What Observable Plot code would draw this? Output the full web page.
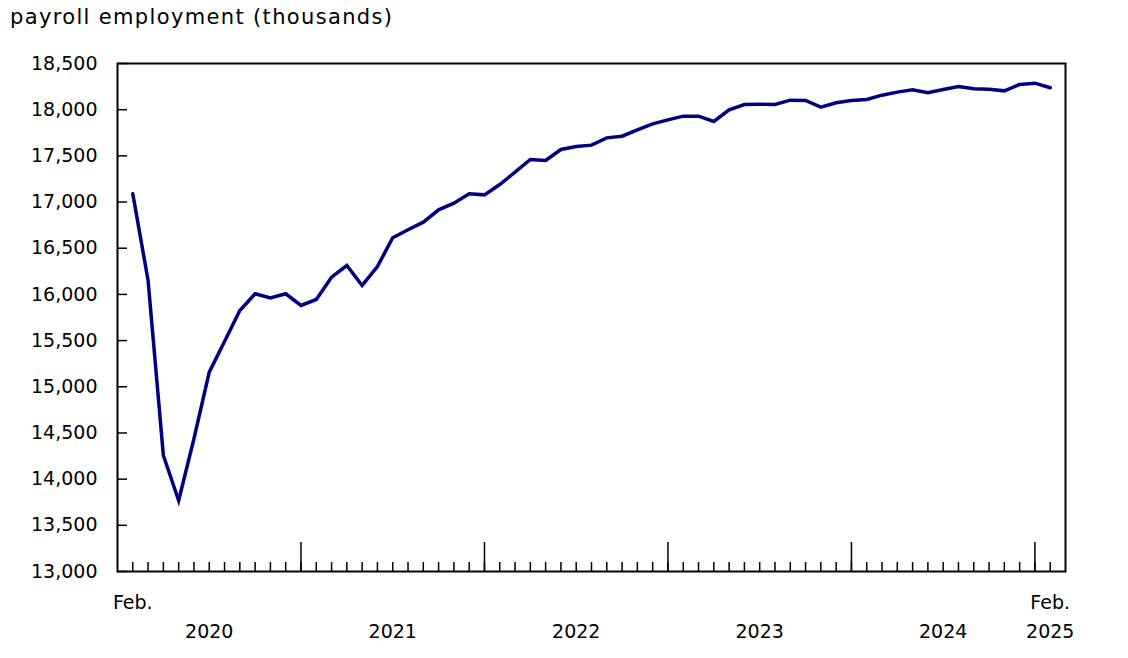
<!DOCTYPE html>
<html>
<head>
<meta charset="utf-8">
<script src="https://cdn.jsdelivr.net/npm/d3@7"></script>
<script src="https://cdn.jsdelivr.net/npm/@observablehq/plot@0.6"></script>
<style>
  html, body { margin: 0; padding: 0; background: #fff; }
  body { font-family: "DejaVu Sans", Verdana, sans-serif; color: #000; }
  #title { box-sizing: border-box; height: 40px; padding: 7px 0 0 10px; font-size: 21px; line-height: 21px; letter-spacing: 1.35px; white-space: nowrap; }
  #chart svg { display: block; }
</style>
</head>
<body>
<div id="title">payroll employment (thousands)</div>
<div id="chart"></div>
<script>
// ---- data ----
const months = d3.utcMonth.range(new Date(Date.UTC(2020, 1, 1)), new Date(Date.UTC(2025, 2, 1)));
const employment = [
  17089, 16151, 14256, 13769, 14437, 15158, 15490, 15826, 16007, 15963, 16007,
  15880, 15945, 16187, 16313, 16097, 16302, 16613, 16700, 16782, 16916, 16988, 17089,
  17078, 17190, 17323, 17461, 17450, 17569, 17601, 17616, 17695, 17713, 17782, 17847,
  17890, 17930, 17930, 17872, 17999, 18056, 18060, 18056, 18103, 18100, 18027, 18075,
  18100, 18110, 18157, 18190, 18215, 18183, 18219, 18251, 18226, 18222, 18204, 18273,
  18287, 18237
];
const yTicks = [13000, 13500, 14000, 14500, 15000, 15500, 16000, 16500, 17000, 17500, 18000, 18500];
const yearLabels = ["2020", "2021", "2022", "2023", "2024"];
const lastYearLabel = "2025";
const monthLabel = "Feb.";

// ---- layout ----
const W = 1128, H = 618;
const mTop = 23, mBottom = 87, mLeft = 117, mRight = 63;
const frameW = W - mLeft - mRight, frameH = H - mTop - mBottom;

const data = months.map((d, i) => ({i, date: d, value: employment[i]}));
const monthIdx = data.map(d => d.i);
const janIdx = data.filter(d => d.date.getUTCMonth() === 0).map(d => d.i);
const yearPos = yearLabels.map(y => ({label: y, i: data.find(d => d.date.getUTCFullYear() === +y && d.date.getUTCMonth() === 6).i}));
const lastI = data.length - 1;
yearPos.push({label: lastYearLabel, i: lastI});
const febPos = [{label: monthLabel, i: 0}, {label: monthLabel, i: lastI}];

const chart = Plot.plot({
  width: W, height: H,
  marginTop: mTop, marginBottom: mBottom, marginLeft: mLeft, marginRight: mRight,
  style: {fontFamily: "DejaVu Sans, Verdana, sans-serif", fontSize: "19px", color: "#000", background: "#fff"},
  x: {type: "linear", domain: [-1, lastI + 1], axis: null},
  y: {domain: [13000, 18500], axis: null},
  marks: [
    // month ticks
    Plot.tickX(monthIdx, {x: d => d, insetTop: frameH - 9, stroke: "#000", strokeWidth: 1.5}),
    // January ticks (taller)
    Plot.tickX(janIdx, {x: d => d, insetTop: frameH - 29, stroke: "#000", strokeWidth: 1.5}),
    // y ticks inward
    Plot.tickY(yTicks, {y: d => d, insetRight: frameW - 10, stroke: "#000", strokeWidth: 1.5}),
    Plot.axisY(yTicks, {tickSize: 0, tickPadding: 20, tickFormat: d3.format(","), fontSize: 19, label: null}),
    Plot.text(febPos, {x: "i", text: "label", frameAnchor: "bottom", dy: 37, fontSize: 19, fill: "#000"}),
    Plot.text(yearPos, {x: "i", text: "label", frameAnchor: "bottom", dy: 66, fontSize: 19, fill: "#000"}),
    Plot.lineY(data, {x: "i", y: "value", stroke: "#000080", strokeWidth: 3.5, strokeLinejoin: "miter", strokeMiterlimit: 4}),
    Plot.frame({stroke: "#000", strokeWidth: 2})
  ]
});
document.getElementById("chart").appendChild(chart);
</script>
</body>
</html>
